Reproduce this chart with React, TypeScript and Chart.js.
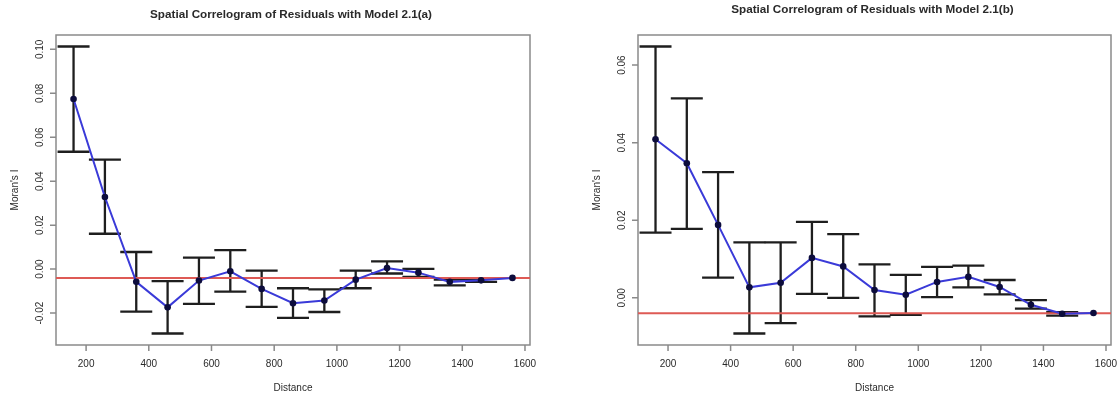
import React, { useEffect, useRef } from "react";
import { Chart, registerables } from "chart.js";
Chart.register(...registerables);

// ---- data ----
const distances = [160, 260, 360, 460, 560, 660, 760, 860, 960, 1060, 1160, 1260, 1360, 1460, 1560];

const meanA = [0.0774, 0.0328, -0.0058, -0.0174, -0.0052, -0.0010, -0.0090, -0.0155, -0.0143, -0.0048, 0.0005, -0.0016, -0.0058, -0.0051, -0.0040];
const upperA = [0.1013, 0.0498, 0.0078, -0.0055, 0.0052, 0.0086, -0.0007, -0.0087, -0.0092, -0.0007, 0.0035, 0.0001, -0.0048, -0.0044, -0.0040];
const lowerA = [0.0534, 0.0161, -0.0193, -0.0293, -0.0158, -0.0102, -0.0172, -0.0222, -0.0195, -0.0087, -0.0020, -0.0035, -0.0074, -0.0058, -0.0040];

const meanB = [0.0409, 0.0347, 0.0188, 0.0027, 0.0039, 0.0103, 0.0081, 0.0020, 0.0008, 0.0041, 0.0054, 0.0028, -0.0018, -0.0041, -0.0039];
const upperB = [0.0648, 0.0514, 0.0324, 0.0143, 0.0143, 0.0196, 0.0164, 0.0086, 0.0059, 0.0080, 0.0083, 0.0046, -0.0006, -0.0037, -0.0039];
const lowerB = [0.0168, 0.0178, 0.0052, -0.0092, -0.0065, 0.0010, 0.0000, -0.0048, -0.0044, 0.0002, 0.0027, 0.0009, -0.0028, -0.0046, -0.0039];

const nullA = -0.004;
const nullB = -0.004;

const xTicks = [200, 400, 600, 800, 1000, 1200, 1400, 1600];
const yTicksA = [-0.02, 0.0, 0.02, 0.04, 0.06, 0.08, 0.1];
const yTickLabelsA = ["-0.02", "0.00", "0.02", "0.04", "0.06", "0.08", "0.10"];
const yTicksB = [0.0, 0.02, 0.04, 0.06];
const yTickLabelsB = ["0.00", "0.02", "0.04", "0.06"];

const titleA = "Spatial Correlogram of Residuals with Model 2.1(a)";
const titleB = "Spatial Correlogram of Residuals with Model 2.1(b)";
const xTitle = "Distance";
const yTitle = "Moran's I";

const FONT = "Arial, 'Liberation Sans', sans-serif";

type PanelProps = {
  width: number;
  left: number;
  pad: { left: number; right: number; top: number; bottom: number };
  mean: number[];
  upper: number[];
  lower: number[];
  nullValue: number;
  yTicks: number[];
  yTickLabels: string[];
  title: string;
  titleY: number;
};

function range4(lo: number, hi: number): [number, number] {
  const d = (hi - lo) * 0.04;
  return [lo - d, hi + d];
}

function Panel(p: PanelProps) {
  const ref = useRef<HTMLCanvasElement | null>(null);
  useEffect(() => {
    if (!ref.current) return;
    const [xMin, xMax] = range4(Math.min(...distances), Math.max(...distances));
    const [yMin, yMax] = range4(Math.min(...p.lower), Math.max(...p.upper));

    const decor = {
      id: "decor",
      beforeDatasetsDraw(chart: any) {
        const ctx = chart.ctx as CanvasRenderingContext2D;
        const a = chart.chartArea;
        const xs = chart.scales.x;
        const ys = chart.scales.y;
        ctx.save();
        // box
        ctx.strokeStyle = "#8a8a8a";
        ctx.lineWidth = 1.5;
        ctx.strokeRect(a.left, a.top, a.right - a.left, a.bottom - a.top);
        // ticks
        ctx.beginPath();
        xTicks.forEach((t) => {
          const x = xs.getPixelForValue(t);
          ctx.moveTo(x, a.bottom);
          ctx.lineTo(x, a.bottom + 6);
        });
        p.yTicks.forEach((t) => {
          const y = ys.getPixelForValue(t);
          ctx.moveTo(a.left - 6, y);
          ctx.lineTo(a.left, y);
        });
        ctx.stroke();
        // error bars
        ctx.strokeStyle = "#1e1e1e";
        ctx.lineWidth = 2.3;
        ctx.lineCap = "butt";
        distances.forEach((d, i) => {
          if (p.upper[i] === p.lower[i]) return;
          const x = xs.getPixelForValue(d);
          const yu = ys.getPixelForValue(p.upper[i]);
          const yl = ys.getPixelForValue(p.lower[i]);
          ctx.beginPath();
          ctx.moveTo(x, yu);
          ctx.lineTo(x, yl);
          ctx.moveTo(x - 16, yu);
          ctx.lineTo(x + 16, yu);
          ctx.moveTo(x - 16, yl);
          ctx.lineTo(x + 16, yl);
          ctx.stroke();
        });
        // null line
        const yn = ys.getPixelForValue(p.nullValue);
        ctx.strokeStyle = "#de5a55";
        ctx.lineWidth = 2;
        ctx.beginPath();
        ctx.moveTo(a.left, yn);
        ctx.lineTo(a.right, yn);
        ctx.stroke();
        ctx.restore();
      },
      afterDraw(chart: any) {
        const ctx = chart.ctx as CanvasRenderingContext2D;
        const a = chart.chartArea;
        const xs = chart.scales.x;
        const ys = chart.scales.y;
        const cx = (a.left + a.right) / 2;
        const cy = (a.top + a.bottom) / 2;
        ctx.save();
        ctx.fillStyle = "#2a2a2a";
        ctx.textAlign = "center";
        ctx.textBaseline = "middle";
        // title
        ctx.font = `bold 11.7px ${FONT}`;
        ctx.fillText(p.title, cx - 2, p.titleY);
        // x tick labels
        ctx.font = `10px ${FONT}`;
        xTicks.forEach((t) => {
          ctx.fillText(String(t), xs.getPixelForValue(t), a.bottom + 19);
        });
        // x title
        ctx.fillText(xTitle, cx, a.bottom + 43);
        // y tick labels (rotated)
        p.yTicks.forEach((t, i) => {
          const y = ys.getPixelForValue(t);
          ctx.save();
          ctx.translate(a.left - 16, y);
          ctx.rotate(-Math.PI / 2);
          ctx.fillText(p.yTickLabels[i], 0, 0);
          ctx.restore();
        });
        // y title
        ctx.save();
        ctx.translate(a.left - 41, cy);
        ctx.rotate(-Math.PI / 2);
        ctx.fillText(yTitle, 0, 0);
        ctx.restore();
        ctx.restore();
      },
    };

    const chart = new Chart(ref.current, {
      type: "line",
      data: {
        datasets: [
          {
            data: distances.map((d, i) => ({ x: d, y: p.mean[i] })),
            borderColor: "#3a3ad8",
            borderWidth: 2,
            pointRadius: 3.3,
            pointBackgroundColor: "#0c0c3c",
            pointBorderColor: "#0c0c3c",
            pointBorderWidth: 0,
            tension: 0,
            fill: false,
          },
        ],
      },
      options: {
        animation: false,
        responsive: false,
        devicePixelRatio: 1,
        layout: { padding: p.pad },
        plugins: { legend: { display: false }, tooltip: { enabled: false }, title: { display: false } },
        scales: {
          x: { type: "linear", min: xMin, max: xMax, display: false },
          y: { type: "linear", min: yMin, max: yMax, display: false },
        },
      },
      plugins: [decor],
    });
    return () => chart.destroy();
  }, []);
  return (
    <canvas
      ref={ref}
      width={p.width}
      height={396}
      style={{ position: "absolute", left: p.left, top: 0, width: p.width, height: 396, display: "block" }}
    />
  );
}

export default function App() {
  return (
    <div style={{ position: "absolute", left: 0, top: 0, width: 1119, height: 396, background: "#fff", overflow: "hidden" }}>
      <Panel
        width={560}
        left={0}
        pad={{ left: 56, right: 30, top: 35, bottom: 51 }}
        mean={meanA}
        upper={upperA}
        lower={lowerA}
        nullValue={nullA}
        yTicks={yTicksA}
        yTickLabels={yTickLabelsA}
        title={titleA}
        titleY={15}
      />
      <Panel
        width={559}
        left={560}
        pad={{ left: 78, right: 8, top: 35, bottom: 51 }}
        mean={meanB}
        upper={upperB}
        lower={lowerB}
        nullValue={nullB}
        yTicks={yTicksB}
        yTickLabels={yTickLabelsB}
        title={titleB}
        titleY={10}
      />
    </div>
  );
}
